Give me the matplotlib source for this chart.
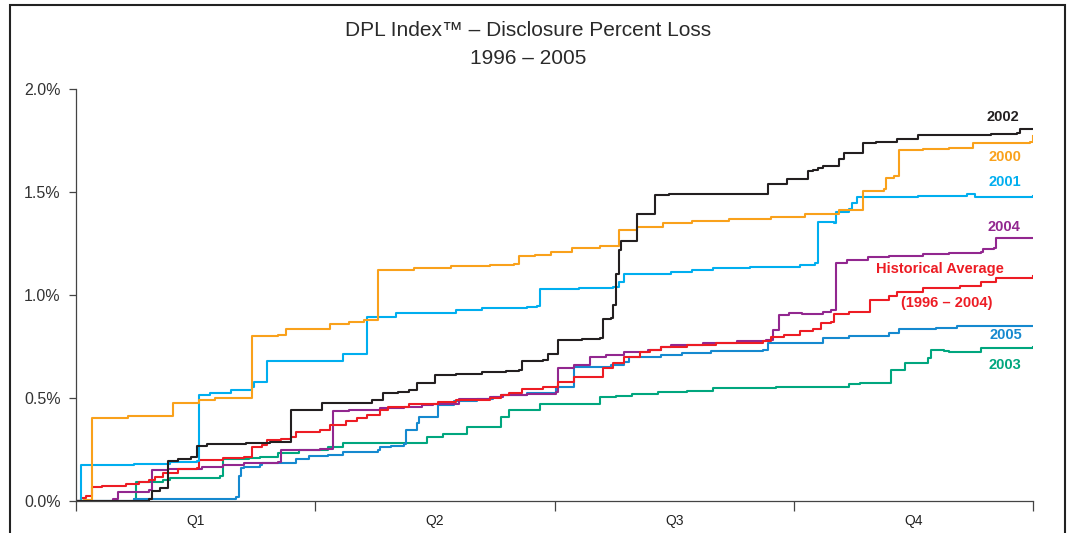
import matplotlib
matplotlib.use("Agg")
import matplotlib.pyplot as plt
from matplotlib.patches import Rectangle
from matplotlib.ticker import FixedLocator, FuncFormatter, NullFormatter

plt.rcParams['font.family'] = ['Liberation Sans', 'DejaVu Sans']

# ---- data: (day of year, cumulative % loss) step points ----
days_2000 = [0, 3, 6, 20, 37, 47, 53, 67, 77, 80, 97, 104, 110, 115, 129, 143, 158, 167, 169, 175, 181, 189, 200, 207, 214, 224, 235, 249, 265, 278, 291, 300, 308, 309, 312, 314, 323, 333, 342, 364, 365]
vals_2000 = [0.0, 0.005, 0.403, 0.413, 0.476, 0.490, 0.500, 0.801, 0.806, 0.835, 0.859, 0.869, 0.879, 1.121, 1.131, 1.141, 1.146, 1.150, 1.189, 1.194, 1.209, 1.228, 1.238, 1.316, 1.330, 1.350, 1.359, 1.369, 1.379, 1.393, 1.413, 1.505, 1.515, 1.568, 1.578, 1.704, 1.709, 1.714, 1.738, 1.743, 1.772]

days_2001 = [0, 2, 22, 36, 46, 47, 51, 59, 67, 68, 73, 102, 111, 122, 145, 155, 172, 176, 177, 192, 205, 207, 209, 227, 235, 243, 257, 276, 282, 283, 289, 290, 295, 296, 298, 321, 337, 340, 343, 353, 365]
vals_2001 = [0.0, 0.175, 0.180, 0.189, 0.194, 0.515, 0.524, 0.539, 0.553, 0.578, 0.680, 0.714, 0.893, 0.913, 0.927, 0.937, 0.942, 0.947, 1.029, 1.034, 1.039, 1.063, 1.102, 1.112, 1.121, 1.131, 1.136, 1.146, 1.155, 1.354, 1.350, 1.403, 1.417, 1.447, 1.476, 1.481, 1.481, 1.490, 1.476, 1.476, 1.481]

days_2002 = [0, 28, 29, 32, 35, 39, 44, 46, 50, 65, 74, 82, 94, 113, 117, 123, 127, 130, 137, 145, 155, 164, 169, 170, 178, 180, 184, 193, 200, 201, 204, 205, 206, 207, 208, 214, 221, 226, 264, 271, 279, 281, 283, 285, 291, 293, 300, 305, 313, 321, 349, 359, 360, 365]
vals_2002 = [0.0, 0.010, 0.049, 0.063, 0.194, 0.204, 0.214, 0.267, 0.277, 0.282, 0.286, 0.442, 0.476, 0.490, 0.524, 0.529, 0.539, 0.573, 0.612, 0.617, 0.626, 0.631, 0.636, 0.680, 0.684, 0.714, 0.782, 0.786, 0.791, 0.883, 0.888, 0.950, 1.100, 1.220, 1.262, 1.393, 1.485, 1.490, 1.539, 1.563, 1.602, 1.607, 1.617, 1.626, 1.660, 1.689, 1.738, 1.743, 1.757, 1.777, 1.782, 1.786, 1.806, 1.806]

days_2003 = [0, 22, 23, 33, 36, 55, 56, 66, 70, 77, 85, 96, 102, 134, 140, 149, 162, 165, 177, 200, 206, 212, 222, 233, 243, 267, 295, 299, 311, 316, 325, 326, 331, 333, 345, 365]
vals_2003 = [0.0, 0.010, 0.092, 0.102, 0.112, 0.121, 0.204, 0.209, 0.214, 0.233, 0.248, 0.262, 0.282, 0.311, 0.325, 0.359, 0.408, 0.442, 0.471, 0.505, 0.510, 0.519, 0.529, 0.534, 0.549, 0.553, 0.568, 0.573, 0.636, 0.670, 0.694, 0.733, 0.728, 0.723, 0.743, 0.748]

days_2004 = [0, 14, 16, 28, 29, 35, 48, 56, 64, 77, 78, 93, 98, 104, 116, 125, 132, 136, 146, 158, 163, 172, 183, 184, 190, 196, 202, 209, 218, 223, 227, 239, 252, 263, 266, 268, 272, 277, 285, 288, 290, 294, 302, 310, 323, 333, 345, 346, 350, 351, 365]
vals_2004 = [0.0, 0.010, 0.044, 0.053, 0.150, 0.155, 0.165, 0.175, 0.184, 0.189, 0.248, 0.252, 0.437, 0.442, 0.451, 0.456, 0.466, 0.471, 0.495, 0.505, 0.515, 0.519, 0.529, 0.646, 0.660, 0.699, 0.709, 0.723, 0.733, 0.748, 0.757, 0.767, 0.777, 0.782, 0.830, 0.903, 0.913, 0.908, 0.917, 0.927, 1.155, 1.170, 1.184, 1.189, 1.199, 1.204, 1.209, 1.223, 1.228, 1.277, 1.277]

days_2005 = [0, 22, 61, 62, 63, 64, 70, 71, 84, 89, 96, 102, 115, 116, 120, 125, 126, 130, 131, 138, 144, 153, 159, 162, 172, 183, 188, 190, 204, 209, 211, 223, 231, 242, 262, 264, 285, 295, 310, 314, 328, 336, 365]
vals_2005 = [0.0, 0.010, 0.019, 0.121, 0.160, 0.165, 0.175, 0.184, 0.204, 0.218, 0.223, 0.238, 0.248, 0.262, 0.267, 0.277, 0.345, 0.379, 0.408, 0.466, 0.485, 0.495, 0.505, 0.515, 0.524, 0.553, 0.553, 0.650, 0.660, 0.675, 0.699, 0.709, 0.718, 0.728, 0.733, 0.767, 0.791, 0.801, 0.816, 0.835, 0.840, 0.850, 0.850]

days_hist = [0, 2, 4, 6, 10, 19, 24, 28, 30, 33, 39, 46, 47, 56, 64, 67, 71, 73, 78, 82, 84, 93, 97, 103, 107, 111, 116, 119, 127, 138, 145, 158, 162, 165, 170, 178, 184, 190, 201, 205, 209, 215, 219, 223, 233, 244, 262, 265, 270, 276, 281, 284, 288, 289, 295, 303, 310, 313, 323, 337, 345, 351, 365]
vals_hist = [0.0, 0.015, 0.024, 0.068, 0.073, 0.083, 0.092, 0.102, 0.117, 0.136, 0.155, 0.160, 0.199, 0.209, 0.214, 0.262, 0.272, 0.296, 0.301, 0.311, 0.335, 0.345, 0.369, 0.388, 0.403, 0.417, 0.442, 0.456, 0.471, 0.481, 0.490, 0.500, 0.515, 0.524, 0.544, 0.553, 0.578, 0.602, 0.646, 0.670, 0.699, 0.723, 0.733, 0.748, 0.757, 0.767, 0.777, 0.796, 0.806, 0.825, 0.835, 0.864, 0.869, 0.908, 0.918, 0.976, 0.995, 1.015, 1.034, 1.044, 1.063, 1.083, 1.092]

quarter_labels = ['Q1', 'Q2', 'Q3', 'Q4']
quarter_edges = [0, 91.25, 182.5, 273.75, 365]
y_ticks = [0.0, 0.5, 1.0, 1.5, 2.0]

series = [
    (days_2003, vals_2003, '#00A67E'),
    (days_2005, vals_2005, '#1589CF'),
    (days_2004, vals_2004, '#92278F'),
    (days_hist, vals_hist, '#ED1C24'),
    (days_2001, vals_2001, '#00AEEF'),
    (days_2000, vals_2000, '#F9A11B'),
    (days_2002, vals_2002, '#231F20'),
]

fig = plt.figure(figsize=(10.68, 5.33), dpi=100)
ax = fig.add_axes([76/1068, 32/533, (1033-76)/1068, (501-89)/533])

for d, v, c in series:
    ax.plot(d, v, drawstyle='steps-post', color=c, lw=1.5, solid_joinstyle='round')

ax.set_xlim(0, 365)
ax.set_ylim(0, 2.0)
ax.yaxis.set_major_locator(FixedLocator(y_ticks))
ax.yaxis.set_major_formatter(FuncFormatter(lambda v, p: f'{v:.1f}%'))
ax.xaxis.set_major_locator(FixedLocator(quarter_edges))
ax.xaxis.set_major_formatter(NullFormatter())
centers = [(quarter_edges[i] + quarter_edges[i+1]) / 2 for i in range(4)]
ax.xaxis.set_minor_locator(FixedLocator(centers))
ax.set_xticklabels(quarter_labels, minor=True)
ax.tick_params(axis='x', which='major', direction='out', length=7, width=0.9, color='#444444')
ax.tick_params(axis='x', which='minor', length=0, labelsize=10, pad=9, labelcolor='#222222')
ax.tick_params(axis='y', direction='out', length=5, width=0.9, color='#444444', labelsize=11.5, labelcolor='#333333', pad=6)
for s in ['top', 'right']:
    ax.spines[s].set_visible(False)
for s in ['left', 'bottom']:
    ax.spines[s].set_color('#444444')
    ax.spines[s].set_linewidth(0.9)

# labels
lab_kw = dict(fontsize=10.5, fontweight='bold', ha='center', va='center', transform=fig.transFigure)
def fx(px): return px / 1068
def fy(py): return 1 - py / 533
fig.text(fx(1003), fy(117), '2002', color='#231F20', **lab_kw)
fig.text(fx(1005), fy(157), '2000', color='#F9A11B', **lab_kw)
fig.text(fx(1005), fy(182), '2001', color='#00AEEF', **lab_kw)
fig.text(fx(1004), fy(227), '2004', color='#92278F', **lab_kw)
fig.text(fx(940), fy(269), 'Historical Average', color='#ED1C24', **lab_kw)
fig.text(fx(947), fy(303), '(1996 – 2004)', color='#ED1C24', **lab_kw)
fig.text(fx(1006), fy(335), '2005', color='#1589CF', **lab_kw)
fig.text(fx(1005), fy(365), '2003', color='#00A67E', **lab_kw)

# title
fig.text(fx(528), fy(31), 'DPL Index™ – Disclosure Percent Loss', ha='center', va='center', fontsize=15, color='#2a2a2a')
fig.text(fx(528), fy(58), '1996 – 2005', ha='center', va='center', fontsize=15, color='#2a2a2a')

# outer border
fig.patches.append(Rectangle((fx(10), -0.02), fx(1065) - fx(10), fy(5) + 0.02,
                             transform=fig.transFigure, fill=False, edgecolor='#222222', lw=1.5))

fig.savefig('out.png', dpi=100)
